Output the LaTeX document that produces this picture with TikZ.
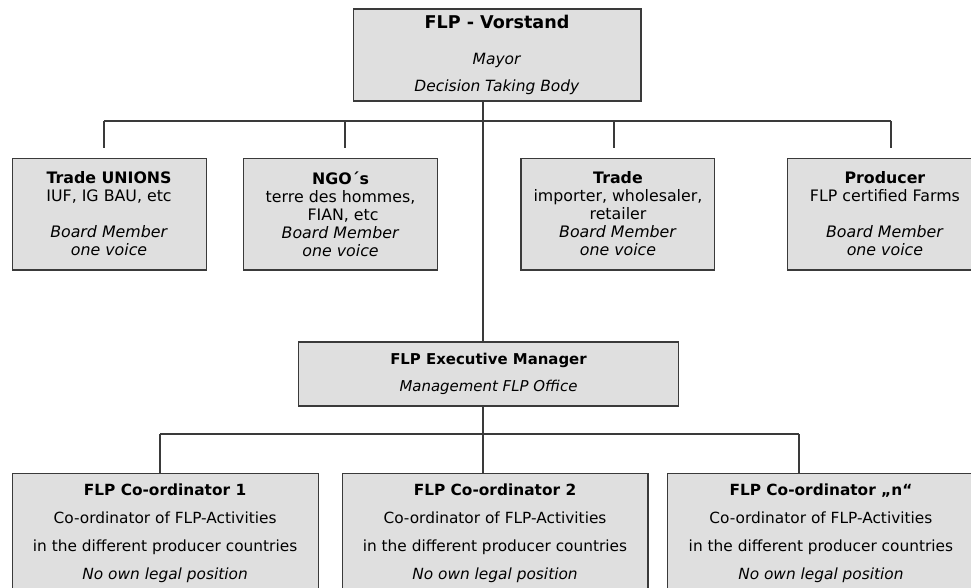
\documentclass[tikz,border=0pt]{standalone}
\usepackage{fontspec}
\setmainfont{DejaVu Sans}
\usepackage{xcolor}
\usepackage{tikz}
\usetikzlibrary{
    positioning
}

\definecolor{boxfill}{HTML}{DFDFDF}
\definecolor{linegray}{HTML}{3A3A3A}

\begin{document}
\begin{tikzpicture}[
    x=0.02cm,
    y=-0.02cm,
    box/.style={
        rectangle,
        draw=linegray,
        fill=boxfill,
        line width=0.6pt,
        align=center,
        inner sep=0pt
    },
    board/.style={
        box,
        minimum width=3.88cm,
        minimum height=2.24cm,
        font=\fontsize{9}{10.25}\selectfont
    },
    coordbox/.style={
        box,
        minimum width=6.12cm,
        minimum height=2.4cm,
        font=\fontsize{8.75}{15.9}\selectfont
    },
    link/.style={
        draw=linegray,
        line width=0.6pt
    }
]

\useasboundingbox (0,0) rectangle (971,588);
\clip (0,0) rectangle (971,588);

% ============================================================
% BOARD
% ============================================================

\node[box, minimum width=5.76cm, minimum height=1.84cm,
      font=\fontsize{8.8}{15.4}\selectfont] (vorstand) at (497,55)
{
{\fontsize{10}{12}\selectfont\bfseries FLP - Vorstand}\\[0.18cm]
\textit{Mayor}\\
\textit{Decision Taking Body}
};

% ============================================================
% BOARD MEMBERS
% ============================================================

\node[board, below=1.12cm of vorstand, xshift=-7.76cm] (unions)
{
\textbf{Trade UNIONS}\\
IUF, IG BAU, etc\\[10.25pt]
\textit{Board Member}\\
\textit{one voice}
};

\node[board, below=1.12cm of vorstand, xshift=-3.13cm] (ngo)
{
\textbf{NGO´s}\\
terre des hommes,\\
\ FIAN, etc\\
\textit{Board Member}\\
\textit{one voice}
};

\node[board, below=1.12cm of vorstand, xshift=2.42cm] (trade)
{
\textbf{Trade}\\
importer, wholesaler,\\
retailer\\
\textit{Board Member}\\
\textit{one voice}
};

\node[board, below=1.12cm of vorstand, xshift=7.76cm] (producer)
{
\textbf{Producer}\\
FLP certified Farms\\[10.25pt]
\textit{Board Member}\\
\textit{one voice}
};

% ============================================================
% MANAGEMENT
% ============================================================

\node[box, below=4.8cm of vorstand, xshift=-0.17cm,
      minimum width=7.62cm, minimum height=1.28cm,
      font=\fontsize{8.5}{15.4}\selectfont] (exec)
{
\textbf{FLP Executive Manager}\\
\textit{Management FLP Office}
};

% ============================================================
% CO-ORDINATORS
% ============================================================

\node[coordbox, below=1.32cm of exec, xshift=-6.47cm] (c1)
{
\textbf{FLP Co-ordinator 1}\\
Co-ordinator of FLP-Activities\\
in the different producer countries\\
\textit{No own legal position}
};

\node[coordbox, below=1.32cm of exec, xshift=0.13cm] (c2)
{
\textbf{FLP Co-ordinator 2}\\
Co-ordinator of FLP-Activities\\
in the different producer countries\\
\textit{No own legal position}
};

\node[coordbox, below=1.32cm of exec, xshift=6.65cm] (cn)
{
\textbf{FLP Co-ordinator „n“}\\
Co-ordinator of FLP-Activities\\
in the different producer countries\\
\textit{No own legal position}
};

% ============================================================
% CONNECTIONS
% ============================================================

\coordinate (trunk) at (483,121);
\coordinate (dropU) at (104,121);
\coordinate (dropN) at (345,121);
\coordinate (dropT) at (614,121);
\coordinate (dropP) at (891,121);
\coordinate (lowL) at (160,434);
\coordinate (lowR) at (799,434);

\draw[link] (trunk |- vorstand.south) -- (trunk |- exec.north);
\draw[link] (dropU) -- (dropP);
\foreach \d/\n in {dropU/unions, dropN/ngo, dropT/trade, dropP/producer}
    \draw[link, shorten >=0.19cm] (\d) -- (\d |- \n.north);

\draw[link] (trunk |- exec.south) -- (trunk |- c2.north);
\draw[link] (lowL) -- (lowR);
\draw[link] (lowL) -- (lowL |- c1.north);
\draw[link] (lowR) -- (lowR |- cn.north);

\end{tikzpicture}
\end{document}
